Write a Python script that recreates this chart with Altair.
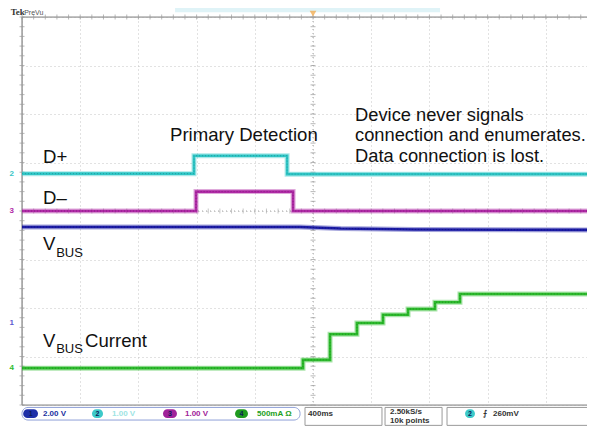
import altair as alt
import pandas as pd

# ---- data (time in ms from trigger, 400 ms/div; level in divisions from screen centre) ----
dplus_t = [-2000, -818, -178, 1883]
dplus_v = [0.77, 1.14, 0.76, 0.76]

dminus_t = [-2000, -804, -137, 1883]
dminus_v = [0.00, 0.40, 0.00, 0.00]

vbus_t = [-2000, -90, 190, 700, 1883]
vbus_v = [-0.33, -0.33, -0.36, -0.38, -0.39]

cur_t = [-2000, -69, 117, 302, 481, 653, 838, 1010, 1883]
cur_v = [-3.24, -3.07, -2.54, -2.31, -2.14, -2.02, -1.88, -1.71, -1.71]

grid_x = [-2000, -1600, -1200, -800, -400, 0, 400, 800, 1200, 1600, 2000]
grid_y = [-4, -3, -2, -1, 0, 1, 2, 3, 4]

XMIN, XMAX = -2000, 1883
W, H = 565, 388

xs = alt.Scale(domain=[XMIN, XMAX], nice=False, zero=False)
ys = alt.Scale(domain=[-4, 4], nice=False, zero=False)
AX = alt.Axis(values=grid_x, grid=True, labels=False, ticks=False, domain=False, title=None,
              gridDash=[1, 3], gridColor="#c4c4c4", gridWidth=1)
AY = alt.Axis(values=grid_y, grid=True, labels=False, ticks=False, domain=False, title=None,
              gridDash=[1, 3], gridColor="#c4c4c4", gridWidth=1)


def X(f="t"):
    return alt.X(f"{f}:Q", scale=xs, axis=AX)


def Y(f="v"):
    return alt.Y(f"{f}:Q", scale=ys, axis=AY)


def trace(ts, vs, color, dark, interp="step-after"):
    df = pd.DataFrame({"t": ts, "v": vs})
    base = alt.Chart(df)
    halo = base.mark_line(interpolate=interp, color=color, strokeWidth=5, opacity=0.4).encode(x=X(), y=Y())
    core = base.mark_line(interpolate=interp, color=color, strokeWidth=2.6).encode(x=X(), y=Y())
    grain = base.mark_line(interpolate=interp, color=dark, strokeWidth=1, opacity=0.45,
                           strokeDash=[1, 2]).encode(x=X(), y=Y())
    return halo + core + grain


# border lines
border = pd.DataFrame({"t": [XMIN, XMIN, XMIN], "t2": [XMAX, XMIN, XMAX],
                       "v": [4, 4, -4], "v2": [4, -4, -4]})
border_l = alt.Chart(border).mark_rule(color="#8a8a8a", strokeWidth=1.2).encode(
    x=X(), x2="t2:Q", y=Y(), y2="v2:Q")

# centre lines (dotted)
cl = pd.DataFrame({"t": [0, XMIN], "t2": [0, XMAX], "v": [4, 0], "v2": [-4, 0]})
centre = alt.Chart(cl).mark_rule(color="#a8a8a8", strokeDash=[1, 3]).encode(
    x=X(), x2="t2:Q", y=Y(), y2="v2:Q")

# minor ticks along centre lines and edges
minor_v = [i / 5 for i in range(-20, 21)]
minor_t = [XMIN + i * 80 for i in range(0, 50) if XMIN + i * 80 <= XMAX]
tv = pd.DataFrame({"t": [0] * len(minor_v), "v": minor_v})
tt = pd.DataFrame({"t": minor_t, "v": [0] * len(minor_t)})
ttop = pd.DataFrame({"t": minor_t, "v": [4] * len(minor_t)})
tleft = pd.DataFrame({"t": [XMIN] * len(minor_v), "v": minor_v})
tick_c1 = alt.Chart(tv).mark_tick(orient="horizontal", size=5, color="#9a9a9a", thickness=1).encode(x=X(), y=Y())
tick_c2 = alt.Chart(tt).mark_tick(orient="vertical", size=5, color="#b0b0b0", thickness=1).encode(x=X(), y=Y())
tick_top = alt.Chart(ttop).mark_tick(orient="vertical", size=5, color="#9a9a9a", thickness=1).encode(x=X(), y=Y())
tick_left = alt.Chart(tleft).mark_tick(orient="horizontal", size=5, color="#9a9a9a", thickness=1).encode(x=X(), y=Y())

# record view bar & trigger marker on top
topbar = alt.Chart(pd.DataFrame({"t": [-948], "t2": [873], "v": [4.10], "v2": [4.31]})).mark_rect(
    color="#dff3f7").encode(x=X(), x2="t2:Q", y=Y(), y2="v2:Q")
trig = alt.Chart(pd.DataFrame({"t": [0], "v": [4.07]})).mark_point(
    shape="triangle-down", filled=True, size=45, color="#f2a23a").encode(x=X(), y=Y())

tek = alt.Chart(pd.DataFrame({"t": [-2078], "v": [4.035], "s": ["Tek"]})).mark_text(
    align="left", baseline="alphabetic", font="Liberation Serif", fontWeight="bold", fontSize=9, color="#333333"
).encode(x=X(), y=Y(), text="s:N")
prevu = alt.Chart(pd.DataFrame({"t": [-1985], "v": [4.035], "s": ["PreVu"]})).mark_text(
    align="left", baseline="alphabetic", font="Liberation Sans", fontSize=7, color="#555555"
).encode(x=X(), y=Y(), text="s:N")

# channel ground markers on the left
gm = pd.DataFrame({"t": [-2070, -2070, -2070, -2070], "v": [0.77, 0.0, -2.31, -3.24],
                   "s": ["2", "3", "1", "4"], "c": ["#37c6c6", "#b02aa6", "#5a5ad0", "#2dbb2d"]})
gmark = alt.Chart(gm).mark_text(fontSize=8, font="Liberation Sans", fontWeight="bold").encode(
    x=X(), y=Y(), text="s:N", color=alt.Color("c:N", scale=None))

# annotation texts
ann = pd.DataFrame({
    "t": [-1856, -1856, -983, -1856, -1567, -1856],
    "v": [1.00, 0.14, 1.44, -0.80, -2.80, -2.80],
    "s": ["D+", "D–", "Primary Detection", "V", "Current", "V"],
})
annot = alt.Chart(ann).mark_text(
    align="left", baseline="alphabetic", font="Liberation Sans", fontSize=18.6, color="#111111"
).encode(x=X(), y=Y(), text="s:N")
note = pd.DataFrame({
    "t": [289, 289, 289],
    "v": [1.86, 1.44, 1.02],
    "s": ["Device never signals", "connection and enumerates.", "Data connection is lost."],
})
notes = alt.Chart(note).mark_text(
    align="left", baseline="alphabetic", font="Liberation Sans", fontSize=18.3, color="#111111"
).encode(x=X(), y=Y(), text="s:N")
subs = pd.DataFrame({"t": [-1765, -1765], "v": [-0.95, -2.93], "s": ["BUS", "BUS"]})
sub = alt.Chart(subs).mark_text(
    align="left", baseline="alphabetic", font="Liberation Sans", fontSize=13, color="#111111"
).encode(x=X(), y=Y(), text="s:N")

# status bar
sb_outline = alt.Chart(pd.DataFrame({"t": [-2000], "t2": [-89], "v": [-4.05], "v2": [-4.31]})).mark_rect(
    fill="white", stroke="#8fa0d8", strokeWidth=1, cornerRadius=6).encode(x=X(), x2="t2:Q", y=Y(), y2="v2:Q")
boxes = alt.Chart(pd.DataFrame({"t": [-55, 495, 921], "t2": [474, 887, 2100],
                                "v": [-4.05, -4.05, -4.05], "v2": [-4.42, -4.42, -4.42]})).mark_rect(
    fill="white", stroke="#9a9a9a", strokeWidth=1).encode(x=X(), x2="t2:Q", y=Y(), y2="v2:Q")
pills = pd.DataFrame({"t": [-1992, -1519, -1031, -536, 1045], "t2": [-1890, -1443, -935, -447, 1113],
                      "v": [-4.09, -4.09, -4.09, -4.09, -4.09], "v2": [-4.27, -4.27, -4.27, -4.27, -4.27],
                      "c": ["#1e2fa8", "#3cc9c9", "#a0229a", "#1f9a1f", "#3cc9c9"]})
pill = alt.Chart(pills).mark_rect(cornerRadius=5).encode(
    x=X(), x2="t2:Q", y=Y(), y2="v2:Q", color=alt.Color("c:N", scale=None))
pnum = pd.DataFrame({"t": [-1941, -1481, -983, -491, 1079], "v": [-4.18] * 5, "s": ["1", "2", "3", "4", "2"]})
pnums = alt.Chart(pnum).mark_text(fontSize=7, font="Liberation Sans", fontWeight="bold", color="#0b1b5a",
                                  baseline="middle").encode(x=X(), y=Y(), text="s:N")
stxt = pd.DataFrame({
    "t": [-1856, -1381, -880, -385, -34, 529, 529, 1168, 1237],
    "v": [-4.18, -4.18, -4.18, -4.18, -4.18, -4.15, -4.33, -4.18, -4.18],
    "s": ["2.00 V", "1.00 V", "1.00 V", "500mA Ω", "400ms", "2.50kS/s", "10k points", "⨍", "260mV"],
    "c": ["#2030a0", "#9ee4e4", "#a0229a", "#22a022", "#333333", "#333333", "#333333", "#333333", "#333333"],
})
stext = alt.Chart(stxt).mark_text(align="left", baseline="middle", font="Liberation Sans", fontSize=8,
                                  fontWeight="bold").encode(
    x=X(), y=Y(), text="s:N", color=alt.Color("c:N", scale=None))

chart = alt.layer(
    topbar, border_l, centre, tick_c1, tick_c2, tick_top, tick_left,
    trace(vbus_t, vbus_v, "#1c1ca6", "#0a0a60", "linear"),
    trace(dminus_t, dminus_v, "#b02aa6", "#5a105a"),
    trace(dplus_t, dplus_v, "#2ec6c6", "#137070"),
    trace(cur_t, cur_v, "#2dbb2d", "#116611"),
    trig, tek, prevu, gmark, annot, notes, sub,
    sb_outline, boxes, pill, pnums, stext,
).properties(
    width=W, height=H,
    autosize=alt.AutoSizeParams(type="none"),
    padding={"left": 14, "top": 9, "right": 0, "bottom": 22},
).configure_view(stroke=None).configure(background="white")

chart.save("out.html", embed_options={"renderer": "svg", "actions": False})
